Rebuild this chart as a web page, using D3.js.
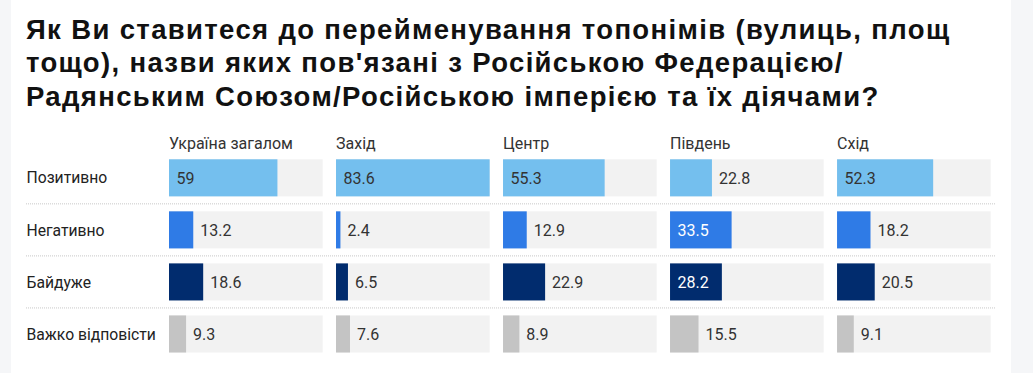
<!DOCTYPE html>
<meta charset="utf-8">
<title>Перейменування топонімів</title>
<script src="https://d3js.org/d3.v7.min.js"></script>
<style>
  body { margin: 0; background: #f5f6f8; }
  svg { display: block; }
</style>
<body>
<script>

// дані з картинки
var titleLines = [
  "Як Ви ставитеся до перейменування топонімів (вулиць, площ",
  "тощо), назви яких пов'язані з Російською Федерацією/",
  "Радянським Союзом/Російською імперією та їх діячами?"
];
var regions = ["Україна загалом", "Захід", "Центр", "Південь", "Схід"];
var answers = ["Позитивно", "Негативно", "Байдуже", "Важко відповісти"];
var positive  = [59, 83.6, 55.3, 22.8, 52.3];
var negative  = [13.2, 2.4, 12.9, 33.5, 18.2];
var indiff    = [18.6, 6.5, 22.9, 28.2, 20.5];
var hardToSay = [9.3, 7.6, 8.9, 15.5, 9.1];
var series = [positive, negative, indiff, hardToSay];

var colors = ["#74bfee", "#2f7be6", "#012c6e", "#c4c4c4"];
var insideText = ["#333", "#fff", "#fff", "#333"];

var width = 1033, height = 373;

var svg = d3.select("body").append("svg")
    .attr("width", width)
    .attr("height", height);

// біла картка
svg.append("rect")
    .attr("x", 11).attr("y", 0)
    .attr("width", 1000).attr("height", height)
    .attr("fill", "#fff");

svg.append("text")
    .attr("font-family", "Liberation Sans, Arial, sans-serif")
    .attr("font-weight", "bold")
    .attr("font-size", 27.5)
    .attr("letter-spacing", 1.35)
    .attr("fill", "#111")
  .selectAll("tspan")
  .data(titleLines)
  .join("tspan")
    .attr("x", 26)
    .attr("y", function(d, i) { return 38.5 + i * 33.5; })
    .text(function(d) { return d; });

var maxVal = d3.max(series, function(s) { return d3.max(s); });

var col = d3.scaleBand()
    .domain(regions)
    .range([169, 990.7])
    .paddingInner(0.08)
    .paddingOuter(0);

var row = d3.scaleBand()
    .domain(answers)
    .range([159.3, 352.5])
    .paddingInner(0.288)
    .paddingOuter(0);

var x = d3.scaleLinear()
    .domain([0, maxVal])
    .range([0, col.bandwidth()]);

var font = "Roboto, sans-serif";

// заголовки колонок
svg.append("g")
  .selectAll("text")
  .data(regions)
  .join("text")
    .attr("x", function(d) { return col(d); })
    .attr("y", 149)
    .attr("font-family", font)
    .attr("font-size", 16)
    .attr("fill", "#333")
    .text(function(d) { return d; });

// підписи рядків
svg.append("g")
  .selectAll("text")
  .data(answers)
  .join("text")
    .attr("x", 26.5)
    .attr("y", function(d) { return row(d) + row.bandwidth() / 2; })
    .attr("dy", "0.36em")
    .attr("font-family", font)
    .attr("font-size", 15.7)
    .attr("fill", "#222")
    .text(function(d) { return d; });

// пунктирні розділювачі
svg.append("g")
  .selectAll("line")
  .data(answers.slice(1))
  .join("line")
    .attr("x1", 26)
    .attr("x2", 996)
    .attr("y1", function(d) { return row(d) - row.step() * row.paddingInner() / 2; })
    .attr("y2", function(d) { return row(d) - row.step() * row.paddingInner() / 2; })
    .attr("stroke", "#c8c8c8")
    .attr("stroke-width", 1)
    .attr("stroke-dasharray", "1,1");

var cells = [];
answers.forEach(function(a, ai) {
  regions.forEach(function(r, ri) {
    cells.push({answer: a, ai: ai, region: r, value: series[ai][ri]});
  });
});

var g = svg.append("g")
  .selectAll("g")
  .data(cells)
  .join("g")
    .attr("transform", function(d) {
      return "translate(" + col(d.region) + "," + row(d.answer) + ")";
    });

g.append("rect")
    .attr("width", col.bandwidth())
    .attr("height", row.bandwidth())
    .attr("fill", "#f2f2f2");

g.append("rect")
    .attr("width", function(d) { return x(d.value); })
    .attr("height", row.bandwidth())
    .attr("fill", function(d) { return colors[d.ai]; });

g.append("text")
    .attr("font-family", font)
    .attr("font-size", 16)
    .attr("y", row.bandwidth() / 2)
    .attr("dy", "0.36em")
    .text(function(d) { return d.value; })
    .each(function(d) {
      var t = d3.select(this);
      var w = this.getComputedTextLength();
      var bw = x(d.value);
      if (w + 14 < bw) {
        t.attr("x", 7.5).attr("fill", insideText[d.ai]);
      } else {
        t.attr("x", bw + 7).attr("fill", "#333");
      }
    });

</script>
</body>
